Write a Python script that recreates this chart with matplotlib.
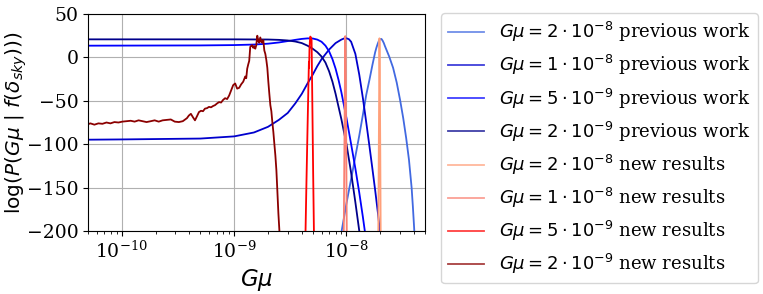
import matplotlib
matplotlib.use("Agg")
import matplotlib.pyplot as plt
from matplotlib.ticker import NullFormatter

plt.rcParams['font.family'] = ['DejaVu Serif']
plt.rcParams['mathtext.fontset'] = 'dejavusans'

# ---- previous work (smooth curves) ----
gmu_prev_2e8 = [8.5e-9, 9e-9, 1e-8, 1.1e-8, 1.2e-8, 1.3e-8, 1.4e-8, 1.5e-8, 1.6e-8, 1.7e-8,
                1.8e-8, 1.85e-8, 1.9e-8, 1.95e-8, 2.0e-8, 2.05e-8, 2.1e-8, 2.15e-8, 2.2e-8,
                2.4e-8, 2.6e-8, 2.8e-8, 3.0e-8, 3.2e-8, 3.4e-8, 3.6e-8, 3.8e-8, 3.9e-8,
                4.0e-8, 4.1e-8, 4.2e-8]
logp_prev_2e8 = [-218, -202, -168, -140, -114, -90, -66, -43, -26, -9,
                 6, 11.5, 16, 19.5, 21.3, 21.2, 19.2, 16.5, 13,
                 1, -12, -29, -49, -70, -93, -118, -150, -172,
                 -196, -222, -250]

gmu_prev_1e8 = [5e-11, 1e-10, 5e-10, 1e-9, 1.5e-9, 2e-9, 2.5e-9, 3e-9, 3.5e-9, 4e-9,
                4.5e-9, 5e-9, 5.5e-9, 6e-9, 7e-9, 8e-9, 9e-9, 9.5e-9, 1e-8, 1.05e-8,
                1.1e-8, 1.2e-8, 1.3e-8, 1.4e-8, 1.5e-8, 1.6e-8, 1.7e-8, 1.8e-8, 1.9e-8,
                2.0e-8, 2.1e-8]
logp_prev_1e8 = [-94.8, -94.5, -93.5, -91, -86.5, -80, -72, -64, -53, -42,
                 -30, -20, -10, -2, 9, 16.5, 20.5, 21.8, 22, 21,
                 18, 4, -20, -47, -75, -102, -128, -153, -178,
                 -204, -232]

gmu_prev_5e9 = [5e-11, 5e-10, 1e-9, 1.5e-9, 2e-9, 2.5e-9, 3e-9, 3.5e-9, 4e-9, 4.5e-9,
                5e-9, 5.5e-9, 6e-9, 6.5e-9, 7e-9, 7.5e-9, 8e-9, 8.5e-9, 9e-9, 1e-8,
                1.1e-8, 1.2e-8, 1.3e-8, 1.4e-8, 1.5e-8, 1.6e-8]
logp_prev_5e9 = [13.5, 13.8, 14.2, 14.8, 15.8, 17.2, 18.8, 20.2, 21.3, 21.9,
                 21.8, 20.5, 18, 13.5, 7, -2, -13, -26, -40, -70,
                 -100, -128, -156, -184, -212, -240]

gmu_prev_2e9 = [5e-11, 1e-9, 2e-9, 2.5e-9, 3e-9, 3.5e-9, 4e-9, 4.5e-9, 5e-9, 5.5e-9,
                6e-9, 6.5e-9, 7e-9, 7.5e-9, 8e-9, 8.5e-9, 9e-9, 1e-8, 1.1e-8, 1.2e-8,
                1.3e-8, 1.4e-8]
logp_prev_2e9 = [20.8, 20.8, 20.6, 20.2, 19.5, 18.3, 16.5, 13.5, 10, 6,
                 1, -6, -16, -28, -42, -57, -71, -100, -133, -167,
                 -200, -236]

# ---- new results ----
gmu_new_2e8 = [1.90e-8, 1.92e-8, 1.94e-8, 1.955e-8, 1.966e-8, 1.98e-8, 2.0e-8, 2.016e-8, 2.035e-8]
logp_new_2e8 = [-290, -200, -100, -30, 22, -20, -110, -200, -290]

gmu_new_1e8 = [9.3e-9, 9.46e-9, 9.6e-9, 9.7e-9, 9.75e-9, 9.82e-9, 9.9e-9, 1.006e-8, 1.02e-8]
logp_new_1e8 = [-290, -200, -90, -10, 24.5, 10, -60, -200, -290]

gmu_new_5e9 = [4.25e-9, 4.32e-9, 4.4e-9, 4.5e-9, 4.6e-9, 4.63e-9, 4.65e-9, 4.68e-9, 4.72e-9,
               4.76e-9, 4.82e-9, 4.89e-9, 4.95e-9, 5.05e-9, 5.13e-9, 5.2e-9]
logp_new_5e9 = [-245, -200, -145, -82, -22, -5, -12, 8, 18,
                24, 23, 20, -37, -133, -200, -262]

gmu_new_2e9 = [5e-11, 5.25e-11, 5.7e-11, 6.19e-11, 6.72e-11, 7.3e-11, 7.92e-11, 8.6e-11, 9.34e-11,
               1.01e-10, 1.10e-10, 1.2e-10, 1.3e-10, 1.41e-10, 1.53e-10, 1.66e-10, 1.81e-10,
               1.96e-10, 2.13e-10, 2.31e-10, 2.51e-10, 2.73e-10, 2.96e-10, 3.22e-10, 3.49e-10,
               3.8e-10, 3.95e-10, 4.12e-10, 4.3e-10, 4.48e-10, 4.66e-10, 4.86e-10, 5.07e-10,
               5.28e-10, 5.5e-10, 5.73e-10, 5.97e-10, 6.23e-10, 6.49e-10, 6.76e-10, 7.05e-10,
               7.34e-10, 7.65e-10, 7.97e-10, 8.31e-10, 8.66e-10, 9.02e-10, 9.4e-10, 9.8e-10,
               1.021e-9, 1.064e-9, 1.109e-9, 1.155e-9, 1.204e-9, 1.255e-9, 1.281e-9, 1.307e-9,
               1.335e-9, 1.362e-9, 1.391e-9, 1.42e-9, 1.449e-9, 1.48e-9, 1.51e-9, 1.542e-9,
               1.574e-9, 1.607e-9, 1.64e-9, 1.674e-9, 1.709e-9, 1.745e-9, 1.781e-9, 1.818e-9,
               1.856e-9, 1.895e-9, 1.934e-9, 1.974e-9, 2.015e-9, 2.057e-9, 2.1e-9, 2.144e-9,
               2.189e-9, 2.234e-9, 2.281e-9, 2.328e-9, 2.377e-9, 2.427e-9, 2.477e-9, 2.529e-9,
               2.581e-9]
logp_new_2e9 = [-77, -76, -77.5, -76, -76.5, -75, -76, -74.5, -75,
                -74, -73.5, -73, -74, -72.5, -73.5, -74.5, -73.5,
                -72.5, -74, -72.5, -72, -71.5, -74, -74.5, -73.5,
                -70, -67, -65, -69, -72.5, -68, -63, -61.5,
                -62, -59, -58.5, -57, -57.5, -56, -55, -53,
                -51.5, -52, -49, -47, -48, -44, -38, -32,
                -30, -36, -35, -31, -28, -22, -24, -13,
                -8, -4, 12, 13.5, 14, 11, 13, 10,
                14, 25, 19, 17, 23, 18, 17, 20,
                8, 4, -3, -12, -28, -42, -55, -62,
                -75, -86, -100, -113, -130, -155, -180, -200,
                -222]

series = [
    (gmu_prev_2e8, logp_prev_2e8, 'royalblue', r'$G\mu = 2\cdot10^{-8}$ previous work'),
    (gmu_prev_1e8, logp_prev_1e8, 'mediumblue', r'$G\mu = 1\cdot10^{-8}$ previous work'),
    (gmu_prev_5e9, logp_prev_5e9, 'blue', r'$G\mu = 5\cdot10^{-9}$ previous work'),
    (gmu_prev_2e9, logp_prev_2e9, 'darkblue', r'$G\mu = 2\cdot10^{-9}$ previous work'),
    (gmu_new_2e8, logp_new_2e8, 'lightsalmon', r'$G\mu = 2\cdot10^{-8}$ new results'),
    (gmu_new_1e8, logp_new_1e8, 'salmon', r'$G\mu = 1\cdot10^{-8}$ new results'),
    (gmu_new_5e9, logp_new_5e9, 'red', r'$G\mu = 5\cdot10^{-9}$ new results'),
    (gmu_new_2e9, logp_new_2e9, 'darkred', r'$G\mu = 2\cdot10^{-9}$ new results'),
]

fig = plt.figure(figsize=(7.63, 2.94), dpi=100)
ax = fig.add_axes([88 / 763, 1 - 231 / 294, 337 / 763, 217 / 294])

for x, y, c, lab in series:
    ax.plot(x, y, color=c, lw=1.3, label=lab)

ax.set_xscale('log')
ax.set_xlim(5e-11, 5e-8)
ax.set_ylim(-200, 50)
ax.set_yticks([-200, -150, -100, -50, 0, 50])
ax.xaxis.set_minor_formatter(NullFormatter())
ax.grid(True, which='major', color='#b0b0b0', lw=0.8)
ax.tick_params(labelsize=13.5)
ax.set_xlabel(r'$G\mu$', fontsize=16.5, labelpad=4)
ax.set_ylabel(r'$\log(P(G\mu\ |\ f(\delta_{sky})))$', fontsize=14.5)
ax.yaxis.set_label_coords(-0.175, 0.5)

leg = ax.legend(loc='upper left', bbox_to_anchor=(441 / 763, 1 - 13 / 294),
                bbox_transform=fig.transFigure, borderaxespad=0, fontsize=13)
for h in leg.legend_handles:
    h.set_alpha(0.75)

fig.savefig('out.png', dpi=100)
